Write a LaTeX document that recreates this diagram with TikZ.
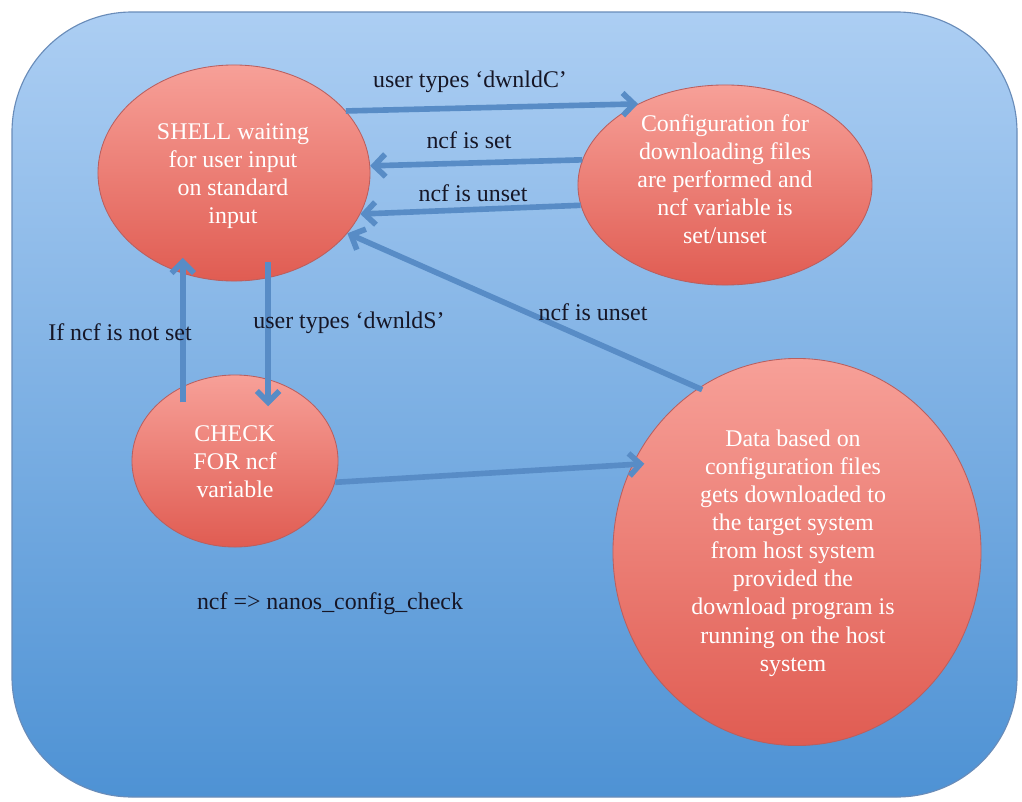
\documentclass[tikz,border=0pt]{standalone}
\usepackage{fontspec}
\setmainfont{Liberation Serif}
\usetikzlibrary{shapes.geometric, arrows.meta, positioning}

\definecolor{bgTop}{RGB}{172,206,243}
\definecolor{bgBot}{RGB}{78,146,212}
\definecolor{bgLine}{RGB}{105,140,185}
\definecolor{stateTop}{RGB}{247,160,152}
\definecolor{stateBot}{RGB}{224,92,82}
\definecolor{stateLine}{RGB}{185,95,95}
\definecolor{flowBlue}{RGB}{88,140,198}
\definecolor{labelInk}{RGB}{22,22,38}

\tikzset{
    state/.style={ellipse, draw=stateLine, line width=0.6pt, top color=stateTop, bottom color=stateBot, inner sep=0pt},
    statetext/.style={text=white, align=center, font=\fontsize{17}{20}\selectfont},
    flow/.style={draw=flowBlue, line width=4pt, -{Straight Barb[length=8pt, width=16pt]}},
    lbl/.style={text=labelInk, font=\fontsize{17}{20}\selectfont}
}

\begin{document}
\begin{tikzpicture}[x=0.025cm, y=-0.025cm]
                \fill[white] (0,0) rectangle (1022,802);
                \useasboundingbox (0,0) rectangle (1022,802);
                \draw[bgLine, line width=0.8pt, rounded corners=3cm, top color=bgTop, bottom color=bgBot]
                    (12,12) rectangle (1017,797);

                % States
                \node[state, minimum width=6.8cm, minimum height=5.4cm] (shell) at (234,173) {};
                \node[state, minimum width=7.35cm, minimum height=5cm] (conf) at (725,185) {};
                \node[state, minimum width=5.15cm, minimum height=4.3cm] (check) at (235,461) {};
                \node[state, minimum width=9.2cm, minimum height=9.675cm] (data) at (797,552) {};

                \node[statetext] (shellTxt) at (233,176) {SHELL waiting\\for user input\\on standard\\input};
                \node[statetext] (confTxt) at (725,179) {Configuration for\\downloading files\\are performed and\\ncf variable is\\set/unset};
                \node[statetext] (checkTxt) at (235,462) {CHECK\\FOR ncf\\variable};
                \node[statetext] (dataTxt) at (793,553)
                    {Data based on\\configuration files\\gets downloaded to\\the target system\\from host system\\provided the\\download program is\\running on the host\\system};

                % Transitions
                \draw[flow] (shell.29) -- (conf.137);
                \draw[flow] (conf.170) -- (shell.3);
                \draw[flow] (conf.188) -- (shell.-18);
                \draw[flow, shorten <=-0.1cm] (data.121) -- (shell.-28);
                \draw[flow, shorten <=-0.4cm] (check.125) -- (check.125 |- shell.225);
                \draw[flow, shorten <=-0.4cm, shorten >=-0.7cm] (shell.288) -- (shell.288 |- check.70);
                \draw[flow, shorten >=-0.3cm] (check.-12) -- (data.152);

                % Labels
                \node[lbl] (lblDwnldC) at (470,82) {user types ‘dwnldC’};
                \node[lbl] (lblSet) at (469,140) {ncf is set};
                \node[lbl] (lblUnset) at (473,193) {ncf is unset};
                \node[lbl] (lblUnsetData) at (593,312) {ncf is unset};
                \node[lbl] (lblNotSet) at (120,332) {If ncf is not set};
                \node[lbl] (lblDwnldS) at (349,323) {user types ‘dwnldS’};
                \node[lbl] (lblNcf) at (330,604) {ncf => nanos\_config\_check};
            \end{tikzpicture}
\end{document}
